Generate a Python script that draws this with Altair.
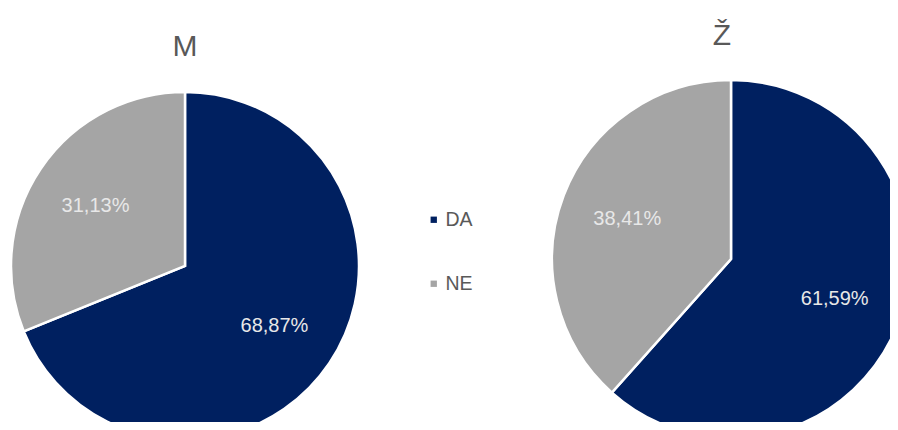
import altair as alt
import pandas as pd

groups = ["M", "Ž"]
answers = ["DA", "NE"]
values_m = [68.87, 31.13]
values_z = [61.59, 38.41]
colors = ["#002060", "#A5A5A5"]

rows = []
for g, vals in zip(groups, [values_m, values_z]):
    for i, (a, v) in enumerate(zip(answers, vals)):
        rows.append(dict(group=g, answer=a, value=v, order=i,
                         label=f"{v:.2f}".replace(".", ",") + "%"))
df = pd.DataFrame(rows)

# pie centres / radius (chart coords), title anchor
centers = {"M": (177, 258, 174), "Ž": (723, 251, 179)}
title_pos = {"M": (177, 48), "Ž": (714, 37)}

color = alt.Color(
    "answer:N",
    scale=alt.Scale(domain=answers, range=colors),
    legend=alt.Legend(
        orient="none", legendX=416, legendY=202, title=None,
        symbolType="square", symbolSize=40, symbolStrokeWidth=0,
        labelFontSize=19.5, labelColor="#595959", labelFont="Liberation Sans",
        rowPadding=43, labelOffset=2,
    ),
)

layers = []
for g in groups:
    cx, cy, r = centers[g]
    tx, ty = title_pos[g]
    base = alt.Chart(df).transform_filter(alt.datum.group == g)
    arc = base.mark_arc(outerRadius=r, stroke="white", strokeWidth=2.5).encode(
        theta=alt.Theta("value:Q", stack=True),
        color=color,
        order=alt.Order("order:Q"),
        x=alt.value(cx), y=alt.value(cy),
    )
    txt = base.mark_text(radius=r * 0.62, fontSize=20, color="#E8E8E8",
                         font="Liberation Sans").encode(
        theta=alt.Theta("value:Q", stack=True),
        order=alt.Order("order:Q"),
        text="label:N",
        x=alt.value(cx), y=alt.value(cy),
    )
    title = base.transform_filter(alt.datum.order == 0).mark_text(
        fontSize=30, color="#595959", font="Liberation Sans", baseline="alphabetic"
    ).encode(text="group:N", x=alt.value(tx), y=alt.value(ty))
    layers += [arc, txt, title]

chart = alt.layer(*layers).properties(
    width=882, height=414, padding=0,
    autosize=alt.AutoSizeParams(type="none"),
).configure_view(stroke=None)

chart.save("out.html", embed_options={"renderer": "svg", "actions": False})
